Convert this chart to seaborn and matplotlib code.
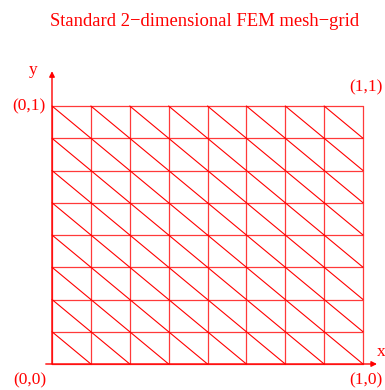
import numpy as np
import pandas as pd
import matplotlib
matplotlib.use('Agg')
import matplotlib.pyplot as plt
import seaborn as sns

# 격자 노드 좌표 (8 x 8 요소)
x_nodes = [0.0, 0.125, 0.25, 0.375, 0.5, 0.625, 0.75, 0.875, 1.0]
y_nodes = [0.0, 0.125, 0.25, 0.375, 0.5, 0.625, 0.75, 0.875, 1.0]

title_text = 'Standard 2\u2212dimensional FEM mesh\u2212grid'
corner_labels = ['(0,0)', '(1,0)', '(0,1)', '(1,1)']

sns.set_theme(style='white')
plt.rcParams['font.family'] = ['Liberation Serif', 'DejaVu Serif']

# 선분 데이터 만들기
rows = []
seg = 0
for y in y_nodes:  # 수평선
    rows += [(seg, x_nodes[0], y, 'grid'), (seg, x_nodes[-1], y, 'grid')]
    seg += 1
for x in x_nodes:  # 수직선
    rows += [(seg, x, y_nodes[0], 'grid'), (seg, x, y_nodes[-1], 'grid')]
    seg += 1
for i in range(len(x_nodes) - 1):  # 대각선 (왼쪽 위 -> 오른쪽 아래)
    for j in range(len(y_nodes) - 1):
        rows += [(seg, x_nodes[i], y_nodes[j + 1], 'diag'),
                 (seg, x_nodes[i + 1], y_nodes[j], 'diag')]
        seg += 1
df = pd.DataFrame(rows, columns=['seg', 'x', 'y', 'kind'])

fig = plt.figure(figsize=(3.85, 3.9), dpi=100)
ax = fig.add_axes([52 / 385, 26 / 390, 311 / 385, 258 / 390])

sns.lineplot(data=df[df.kind == 'grid'], x='x', y='y', units='seg', estimator=None,
             sort=False, color='#ff3a3a', lw=0.9, ax=ax, legend=False)
sns.lineplot(data=df[df.kind == 'diag'], x='x', y='y', units='seg', estimator=None,
             sort=False, color='#ff0000', lw=0.8, ax=ax, legend=False)

ax.set_xlim(0, 1)
ax.set_ylim(0, 1)
ax.axis('off')
for line in ax.lines:
    line.set_clip_on(False)

red = '#ff0000'
# 좌표축 화살표
ax.annotate('', xy=(1.045, 0), xytext=(-0.02, 0), annotation_clip=False,
            arrowprops=dict(arrowstyle='-|>', color=red, lw=1.0,
                            mutation_scale=8, shrinkA=0, shrinkB=0))
ax.annotate('', xy=(0, 1.135), xytext=(0, 0), annotation_clip=False,
            arrowprops=dict(arrowstyle='-|>', color=red, lw=1.0,
                            mutation_scale=8, shrinkA=0, shrinkB=0))

fs = 12.5
ax.text(1.058, 0.045, 'x', color=red, fontsize=fs, ha='center', va='center')
ax.text(-0.061, 1.14, 'y', color=red, fontsize=fs, ha='center', va='center')
ax.text(-0.071, -0.062, corner_labels[0], color=red, fontsize=fs, ha='center', va='center')
ax.text(1.01, -0.062, corner_labels[1], color=red, fontsize=fs, ha='center', va='center')
ax.text(-0.02, 1.0, corner_labels[2], color=red, fontsize=fs, ha='right', va='center')
ax.text(1.01, 1.074, corner_labels[3], color=red, fontsize=fs, ha='center', va='center')

fig.text(205 / 385, 1 - 21 / 390, title_text, color=red, fontsize=13.4,
         ha='center', va='center')

fig.savefig('out.png', dpi=100)
